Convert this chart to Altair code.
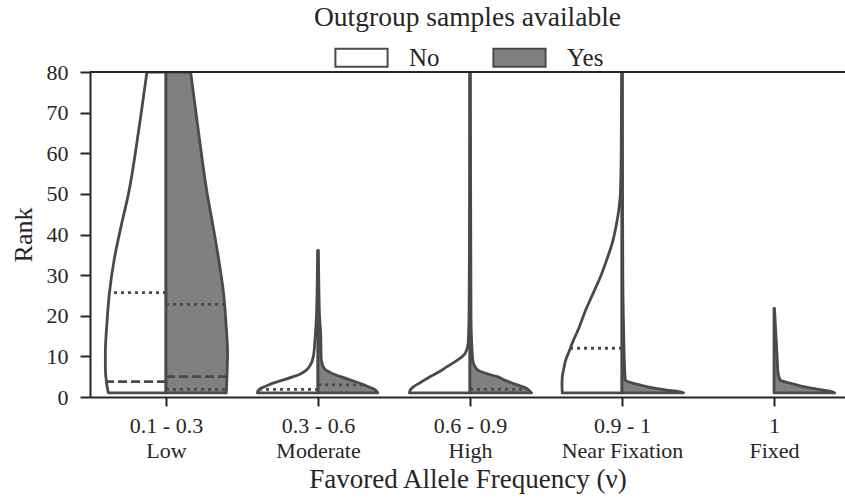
import altair as alt
import pandas as pd

# ---------------- data ----------------
range_labels = ["0.1 - 0.3", "0.3 - 0.6", "0.6 - 0.9", "0.9 - 1", "1"]
class_labels = ["Low", "Moderate", "High", "Near Fixation", "Fixed"]
groups = ["No", "Yes"]

# half-violin outlines: rank values and relative half-width (1 = widest)
low_no_rank = [1, 2, 4, 7, 11, 18, 25.5, 34, 42, 50, 65, 80]
low_no_w = [0.935, 0.95, 0.97, 0.985, 0.985, 0.96, 0.92, 0.84, 0.73, 0.61, 0.45, 0.31]
low_yes_rank = [1, 5, 11, 18, 25.5, 34, 42, 50, 65, 80]
low_yes_w = [0.98, 0.99, 1.0, 0.975, 0.935, 0.855, 0.765, 0.67, 0.53, 0.40]

mod_no_rank = [1, 1.5, 2.1, 2.7, 3.4, 4.2, 5, 5.8, 6.6, 8, 10, 14, 20, 28, 36]
mod_no_w = [0.985, 0.975, 0.935, 0.84, 0.73, 0.56, 0.40, 0.27, 0.19, 0.12, 0.075,
            0.05, 0.025, 0.013, 0.005]
mod_yes_rank = [1, 1.5, 2.1, 2.7, 3.4, 4.2, 5, 5.8, 6.6, 8, 10, 15, 20, 28, 36]
mod_yes_w = [0.97, 0.95, 0.89, 0.79, 0.68, 0.52, 0.37, 0.23, 0.13, 0.07, 0.05,
             0.045, 0.025, 0.013, 0.005]

high_no_rank = [1, 1.7, 2.5, 3.7, 5, 6.2, 7.5, 9, 10.7, 13.2, 20, 40, 80]
high_no_w = [0.985, 0.97, 0.92, 0.79, 0.65, 0.50, 0.37, 0.21, 0.08, 0.03, 0.016, 0.008, 0.005]
high_yes_rank = [1, 1.5, 2.1, 2.7, 3.4, 4.2, 5, 5.8, 6.6, 8, 9.1, 20, 80]
high_yes_w = [1.0, 0.97, 0.92, 0.82, 0.69, 0.56, 0.44, 0.26, 0.13, 0.065, 0.044, 0.016, 0.005]

nf_no_rank = [1, 3, 5, 7, 9.1, 11, 13.2, 17, 21.4, 25.5, 29.6, 33.7, 37.8, 42, 46, 50, 60, 80]
nf_no_w = [0.97, 0.975, 0.97, 0.945, 0.915, 0.865, 0.81, 0.70, 0.59, 0.47, 0.35, 0.25,
           0.16, 0.097, 0.053, 0.027, 0.013, 0.006]
nf_yes_rank = [1, 1.3, 1.7, 2.3, 3, 3.6, 4.2, 8, 15.8, 30, 80]
nf_yes_w = [1.0, 0.92, 0.73, 0.48, 0.29, 0.13, 0.053, 0.04, 0.027, 0.013, 0.006]

fixed_yes_rank = [1, 1.3, 1.7, 2.1, 2.7, 3.4, 4.2, 6, 9.1, 15, 21.8]
fixed_yes_w = [0.985, 0.95, 0.81, 0.63, 0.44, 0.26, 0.10, 0.065, 0.053, 0.032, 0.008]

# quartile lines: category index, group, rank, relative reach, kind
q_cat = [0, 0, 0, 0, 0, 1, 1, 2, 3]
q_group = ["No", "No", "Yes", "Yes", "Yes", "No", "Yes", "Yes", "No"]
q_rank = [25.7, 3.8, 22.8, 5.0, 1.9, 1.9, 3.0, 1.9, 12.0]
q_w = [0.92, 0.96, 0.96, 0.99, 0.99, 0.94, 0.74, 0.92, 0.83]
q_kind = ["quartile", "median", "quartile", "median", "quartile",
          "quartile", "quartile", "quartile", "quartile"]

# ---------------- build tables ----------------
HALF = 0.405  # widest half-violin in category units
profiles = [
    (0, "No", low_no_rank, low_no_w), (0, "Yes", low_yes_rank, low_yes_w),
    (1, "No", mod_no_rank, mod_no_w), (1, "Yes", mod_yes_rank, mod_yes_w),
    (2, "No", high_no_rank, high_no_w), (2, "Yes", high_yes_rank, high_yes_w),
    (3, "No", nf_no_rank, nf_no_w), (3, "Yes", nf_yes_rank, nf_yes_w),
    (4, "Yes", fixed_yes_rank, fixed_yes_w),
]
rows = []
for ci, g, rk, ws in profiles:
    s = -1 if g == "No" else 1
    for r, w in zip(rk, ws):
        rows.append({"key": f"{ci}-{g}", "group": g, "rank": r,
                     "xc": ci, "xe": ci + s * w * HALF})
vdf = pd.DataFrame(rows)

qrows = []
for ci, g, r, w, k in zip(q_cat, q_group, q_rank, q_w, q_kind):
    s = -1 if g == "No" else 1
    qrows.append({"rank": r, "xc": ci, "xe": ci + s * w * HALF, "kind": k})
qdf = pd.DataFrame(qrows)

SERIF = "Liberation Serif"
TXT = "#262626"
LINE = "#4a4a4a"
W, H = 755, 325

xscale = alt.Scale(domain=[-0.5, 4.467], nice=False, zero=False)
yscale = alt.Scale(domain=[0, 80], nice=False)

label_expr = ("[" + "[" + ",".join(f"'{a}'" for a in range_labels) + "][datum.value], "
              + "[" + ",".join(f"'{b}'" for b in class_labels) + "][datum.value]]")

xaxis = alt.Axis(values=[0, 1, 2, 3, 4], labelExpr=label_expr, title="Favored Allele Frequency (ν)",
                 labelFontSize=22, labelLineHeight=25, labelPadding=9, titleFontSize=27,
                 titlePadding=5, tickSize=9, grid=False)
yaxis = alt.Axis(values=list(range(0, 81, 10)), title="Rank", labelFontSize=22,
                 titleFontSize=26, titlePadding=10, tickSize=10, grid=False, labelPadding=12)

violins = alt.Chart(vdf).mark_area(
    orient="horizontal", stroke=LINE, strokeWidth=2.8, strokeJoin="round",
    interpolate="monotone", opacity=1, clip=True
).encode(
    y=alt.Y("rank:Q", scale=yscale, axis=yaxis),
    x=alt.X("xe:Q", scale=xscale, axis=xaxis),
    x2="xc:Q",
    fill=alt.Fill("group:N", scale=alt.Scale(domain=groups, range=["#ffffff", "#808080"]),
                  legend=alt.Legend(
                      orient="none", legendX=259, legendY=-27, direction="horizontal",
                      title=None, symbolType="M-2.9,-1H2.9V1H-2.9Z", symbolSize=324,
                      symbolStrokeColor=LINE, symbolStrokeWidth=2, symbolOpacity=1,
                      labelFont=SERIF, labelFontSize=25, labelColor=TXT,
                      labelOffset=35, columnPadding=49, padding=0)),
    detail="key:N",
)

quart = alt.Chart(qdf).mark_rule(stroke=LINE, strokeWidth=2.8).encode(
    y=alt.Y("rank:Q", scale=yscale),
    x=alt.X("xc:Q", scale=xscale),
    x2="xe:Q",
    strokeDash=alt.StrokeDash("kind:N", scale=alt.Scale(domain=["quartile", "median"],
                                                         range=[[3, 4], [9, 4]]), legend=None),
)

top = alt.Chart(pd.DataFrame({"v": [80]})).mark_rule(stroke=TXT, strokeWidth=2).encode(
    y=alt.Y("v:Q", scale=yscale),
    x=alt.datum(-0.5),
    x2=alt.datum(4.467),
)

chart = alt.layer(violins, quart, top).properties(
    width=W, height=H, background="white",
    title=alt.TitleParams("Outgroup samples available", anchor="middle", fontSize=27.5,
                          font=SERIF, fontWeight="normal", color=TXT, offset=14),
    autosize=alt.AutoSizeParams(type="none"),
    padding={"left": 90, "top": 72, "right": 0, "bottom": 102},
).configure_view(stroke=None).configure_axis(
    labelFont=SERIF, titleFont=SERIF, labelColor=TXT, titleColor=TXT,
    titleFontWeight="normal", domainColor=TXT, tickColor=TXT, domainWidth=2, tickWidth=2,
)

chart.save("out.html", embed_options={"renderer": "svg", "actions": False})
